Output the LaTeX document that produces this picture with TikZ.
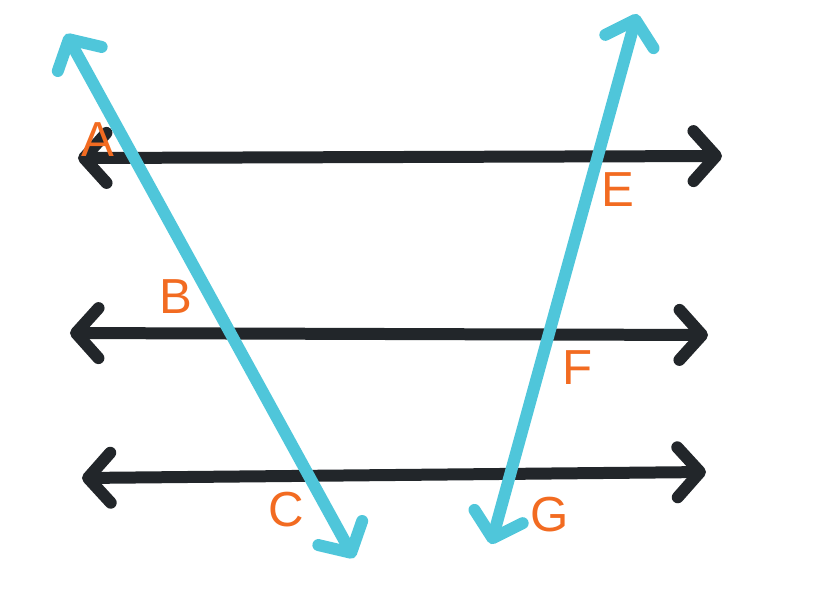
\documentclass[tikz,border=0pt]{standalone}
\usepackage{fontspec}
\setmainfont{Liberation Sans}
\usetikzlibrary{arrows.meta}
\definecolor{ink}{HTML}{22262A}
\definecolor{cy}{HTML}{4FC6DA}
\definecolor{org}{HTML}{F26B21}
\tikzset{
 blk/.style={line width=0.24cm, color=ink, line cap=round, {Straight Barb[length=0.45cm,width=1.0cm,round]}-{Straight Barb[length=0.45cm,width=1.0cm,round]}},
 cyl/.style={line width=0.24cm, color=cy, line cap=round, {Straight Barb[length=0.45cm,width=1.0cm,round]}-{Straight Barb[length=0.45cm,width=1.0cm,round]}},
 lbl/.style={text=org, font=\fontsize{28}{30}\selectfont}
}
\begin{document}
\begin{tikzpicture}[x=0.02cm,y=-0.02cm]
\useasboundingbox (0,0) rectangle (818,600);
\coordinate (a1) at (78,158); \coordinate (a2) at (722,156);
\coordinate (b1) at (70,333); \coordinate (b2) at (708,335);
\coordinate (c1) at (82,478); \coordinate (c2) at (706,472);
\coordinate (l1) at (66,34); \coordinate (l2) at (354,558);
\coordinate (r1) at (637,14); \coordinate (r2) at (491,544);
\draw[blk] (a1) -- (a2);
\draw[blk] (b1) -- (b2);
\draw[blk] (c1) -- (c2);
\draw[cyl] (l1) -- (l2);
\draw[cyl] (r1) -- (r2);
\node[lbl] (A) at (98,140) {A};
\node[lbl] (B) at (176,297) {B};
\node[lbl] (C) at (286,510) {C};
\node[lbl] (E) at (618,190) {E};
\node[lbl] (F) at (578,368) {F};
\node[lbl] (G) at (550,515) {G};
\end{tikzpicture}
\end{document}
